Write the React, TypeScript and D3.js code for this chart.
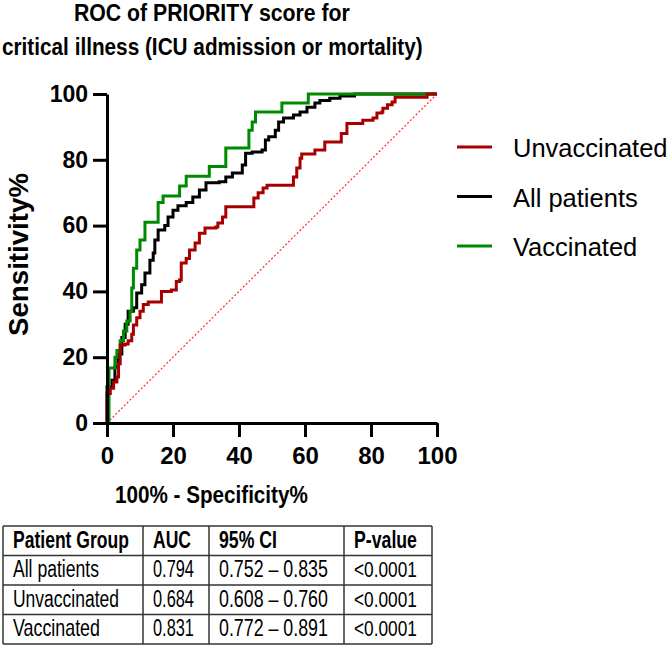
import React, { useEffect, useRef } from "react";
import * as d3 from "d3";

// ---- data ----
const seriesNames = ["All patients", "Vaccinated", "Unvaccinated"];
const seriesColors = ["#000000", "#008a00", "#a80000"];

// [100% - specificity, sensitivity]
const allPatients: [number, number][] = [
  [0, 0], [0, 11], [1.5, 13], [2.4, 17], [3.3, 21], [4.5, 26], [5.5, 30], [6.4, 34], [8, 35],
  [9, 39.5], [10.5, 42], [11.5, 45.6], [13, 49.5], [14, 51.7], [14.5, 55.6], [15.5, 58.7],
  [17.5, 60], [18.5, 62.6], [20, 64.7], [21.5, 66], [24, 67], [26, 68.7], [28, 70.8], [30, 73],
  [34, 73.3], [36, 74.8], [38, 76], [39.7, 76], [41, 78.4], [42, 82], [44, 82.4], [47, 83],
  [48, 86], [49, 87], [51, 89], [52, 91.5], [53.5, 92.7], [56.5, 93.6], [58.5, 94.5], [60.6, 96],
  [63, 97.3], [64.5, 98], [67.5, 98.7], [70.6, 99.4], [75, 99.4], [75, 100], [100, 100],
];
const vaccinated: [number, number][] = [
  [0, 0], [0.6, 10], [0.6, 16.7], [2.4, 16.7], [2.4, 20], [3, 22], [4, 25], [5, 28], [6, 31],
  [7, 34], [7.5, 41], [8, 47], [9, 52.6], [10, 55.6], [11.5, 61], [15.5, 61], [15.5, 67],
  [17, 69], [22, 69], [22, 72], [24, 75], [31, 75], [31, 78], [36, 78], [36, 83.6], [42, 83.6],
  [43, 89], [44, 91.5], [45, 94.5], [53, 94.5], [53, 97.3], [61, 97.3], [61, 100], [100, 100],
];
const unvaccinated: [number, number][] = [
  [0, 0], [0, 9], [1, 10.6], [2, 12.5], [3, 14], [3.5, 18], [4, 23.7], [5.5, 24], [6.4, 25],
  [7.5, 27], [8, 29.8], [9, 32], [10, 34], [11, 36], [12.5, 36.8], [16, 36.8], [16.5, 40],
  [19.5, 40.4], [21, 43], [22, 43.5], [22.5, 48.6], [24, 50], [25, 52.6], [26.7, 54.7],
  [28, 57.7], [29.7, 59.3], [33, 59.6], [33.6, 60.8], [35, 62.6], [36, 65.7], [44, 65.7],
  [44.5, 68.4], [45.8, 70], [47.3, 71.4], [48.5, 72.3], [56, 72.3], [56.5, 74.8], [57.5, 77.5],
  [58.5, 80.5], [59, 81.8], [62.5, 81.8], [63, 83], [65.5, 83], [66, 85.4], [71, 85.4], [71, 88],
  [72.7, 91], [77, 91], [77.5, 92], [80.6, 92.7], [81.8, 94.2], [83.3, 94.5], [83.6, 95.7],
  [85, 96.7], [86.4, 97.6], [87.3, 99], [96.4, 99], [97, 100], [100, 100],
];
const seriesData = [allPatients, vaccinated, unvaccinated];

const legendNames = ["Unvaccinated", "All patients", "Vaccinated"];
const legendColors = ["#a80000", "#000000", "#008a00"];

const axisTicks = [0, 20, 40, 60, 80, 100];

const tableHeader = ["Patient Group", "AUC", "95% CI", "P-value"];
const tableGroups = ["All patients", "Unvaccinated", "Vaccinated"];
const tableAUC = ["0.794", "0.684", "0.831"];
const tableCI = ["0.752 – 0.835", "0.608 – 0.760", "0.772 – 0.891"];
const tableP = ["<0.0001", "<0.0001", "<0.0001"];

// ---- layout ----
const W = 669;
const H = 649;
const X0 = 107, X1 = 437, Y0 = 423, Y1 = 94;
const BOLD = "'Liberation Sans', Arial, sans-serif";
const NARROW = "'Liberation Sans Narrow', 'Arial Narrow', 'Liberation Sans', Arial, sans-serif";

const colX = [3, 143, 209, 344, 432];
const rowY = [526, 555.5, 585, 614.5, 644];

const headerWidths = [116, 38, 58, 63];
const groupWidths = [86, 106, 87];
const aucWidth = 41;
const ciWidth = 109;
const pWidth = 63;

export default function App() {
  const svgRef = useRef<SVGSVGElement>(null);
  const xAxisRef = useRef<SVGGElement>(null);
  const yAxisRef = useRef<SVGGElement>(null);

  const x = d3.scaleLinear().domain([0, 100]).range([X0, X1]);
  const y = d3.scaleLinear().domain([0, 100]).range([Y0, Y1]);
  const line = d3
    .line<[number, number]>()
    .x((d) => x(d[0]))
    .y((d) => y(d[1]))
    .curve(d3.curveStepAfter);

  useEffect(() => {
    if (xAxisRef.current) {
      const g = d3.select(xAxisRef.current);
      g.selectAll("*").remove();
      g.call(
        d3.axisBottom(x).tickValues(axisTicks).tickSize(14).tickSizeOuter(0).tickPadding(10)
      );
      g.select(".domain").attr("stroke", "#000").attr("stroke-width", 3);
      g.selectAll(".tick line").attr("stroke", "#000").attr("stroke-width", 3);
      g.selectAll(".tick text")
        .attr("font-family", BOLD)
        .attr("font-weight", "bold")
        .attr("font-size", 24)
        .attr("fill", "#000");
    }
    if (yAxisRef.current) {
      const g = d3.select(yAxisRef.current);
      g.selectAll("*").remove();
      g.call(
        d3.axisLeft(y).tickValues(axisTicks).tickSize(14).tickSizeOuter(0).tickPadding(5)
      );
      g.select(".domain").attr("stroke", "#000").attr("stroke-width", 3);
      g.selectAll(".tick line").attr("stroke", "#000").attr("stroke-width", 3);
      g.selectAll(".tick text")
        .attr("font-family", BOLD)
        .attr("font-weight", "bold")
        .attr("font-size", 23)
        .attr("fill", "#000");
    }
    // fit texts horizontally to their measured width in the reference
    if (svgRef.current) {
      d3.select(svgRef.current)
        .selectAll<SVGTextElement, unknown>("text[data-w]")
        .each(function () {
          const el = this as SVGTextElement;
          const target = +(el.getAttribute("data-w") || 0);
          const x0 = +(el.getAttribute("x") || 0);
          const y0 = +(el.getAttribute("y") || 0);
          const w = el.getComputedTextLength();
          if (w > 0 && target > 0) {
            const s = target / w;
            el.setAttribute(
              "transform",
              `translate(${x0},${y0}) scale(${s},1) translate(${-x0},${-y0})`
            );
          }
        });
    }
  }, []);

  return (
    <svg
      ref={svgRef}
      width={W}
      height={H}
      style={{ position: "absolute", left: 0, top: 0, background: "#fff" }}
    >
      <rect x={0} y={0} width={W} height={H} fill="#fff" />
      {/* Title */}
      <text x={74} y={21} data-w={276} fontFamily={BOLD} fontWeight="bold" fontSize={24}>
        ROC of PRIORITY score for
      </text>
      <text x={2} y={55} data-w={421} fontFamily={BOLD} fontWeight="bold" fontSize={24}>
        critical illness (ICU admission or mortality)
      </text>

      {/* diagonal reference */}
      <line x1={x(0)} y1={y(0)} x2={x(100)} y2={y(100)} stroke="#ff2a2a" strokeWidth={1.2} strokeDasharray="2,2" />

      {/* curves */}
      {seriesData.map((d, i) => (
        <path key={seriesNames[i]} d={line(d) || ""} fill="none" stroke={seriesColors[i]} strokeWidth={3} strokeLinejoin="miter" />
      ))}

      {/* axes */}
      <g ref={xAxisRef} transform={`translate(0,${Y0})`} />
      <g ref={yAxisRef} transform={`translate(${X0},0)`} />

      {/* axis labels */}
      <text x={115} y={503} data-w={193} fontFamily={BOLD} fontWeight="bold" fontSize={24}>
        100% - Specificity%
      </text>
      <text
        transform="translate(28,336) rotate(-90)"
        x={0}
        y={0}
        fontFamily={BOLD}
        fontWeight="bold"
        fontSize={27}
        textLength={163}
        lengthAdjust="spacingAndGlyphs"
      >
        Sensitivity%
      </text>

      {/* legend */}
      {legendNames.map((n, i) => (
        <g key={n} transform={`translate(0,${147 + i * 49.5})`}>
          <line x1={457} x2={492} y1={0} y2={0} stroke={legendColors[i]} strokeWidth={3} />
          <text
            x={513}
            y={10}
            fontFamily="'Liberation Sans', Arial, sans-serif"
            fontSize={25.5}
            fill="#000"
          >
            {n}
          </text>
        </g>
      ))}

      {/* table */}
      <g>
        {rowY.map((ry, i) => (
          <line key={"h" + i} x1={colX[0]} x2={colX[4]} y1={ry} y2={ry} stroke="#333" strokeWidth={1.5} />
        ))}
        {colX.map((cx, i) => (
          <line key={"v" + i} x1={cx} x2={cx} y1={rowY[0]} y2={rowY[4]} stroke="#333" strokeWidth={1.5} />
        ))}
        {tableHeader.map((h, i) => (
          <text
            key={h}
            x={colX[i] + 10}
            y={rowY[0] + 22}
            data-w={headerWidths[i]}
            fontFamily={NARROW}
            fontWeight="bold"
            fontSize={23}
          >
            {h}
          </text>
        ))}
        {tableGroups.map((g, r) => (
          <g key={g}>
            <text x={colX[0] + 10} y={rowY[r + 1] + 22} data-w={groupWidths[r]} fontFamily={NARROW} fontSize={23}>
              {g}
            </text>
            <text x={colX[1] + 10} y={rowY[r + 1] + 22} data-w={aucWidth} fontFamily={NARROW} fontSize={23}>
              {tableAUC[r]}
            </text>
            <text x={colX[2] + 10} y={rowY[r + 1] + 22} data-w={ciWidth} fontFamily={NARROW} fontSize={23}>
              {tableCI[r]}
            </text>
            <text x={colX[3] + 10} y={rowY[r + 1] + 22} data-w={pWidth} fontFamily={NARROW} fontSize={23}>
              {tableP[r]}
            </text>
          </g>
        ))}
      </g>
    </svg>
  );
}
